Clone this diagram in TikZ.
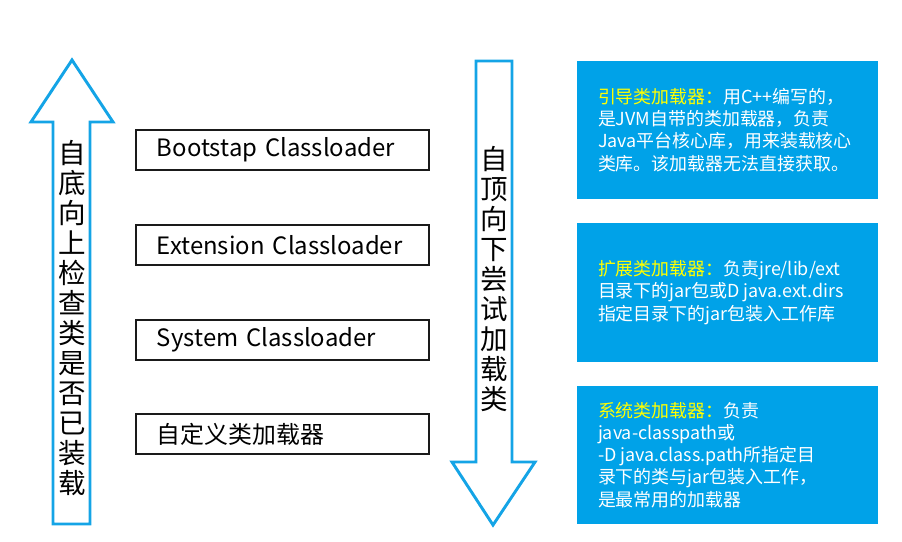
\documentclass[tikz,border=0pt]{standalone}
\usepackage{fontspec}
\setmainfont{Noto Sans CJK SC}
\usepackage{xcolor}
\usepackage{tikz}
\usetikzlibrary{positioning}
\definecolor{loaderBlue}{HTML}{00A2E8}
\definecolor{loaderLine}{HTML}{14A4E6}
\definecolor{loaderInk}{HTML}{1A1A1A}
\definecolor{loaderYellow}{HTML}{FFFF00}
\tikzset{
    loader/box/.style={
        rectangle, draw=loaderInk, fill=white, line width=1.6pt,
        minimum width=8.79cm, minimum height=1.2cm,
        text width=7.53cm, inner xsep=0.63cm, align=left,
        font=\fontsize{20.4}{24}\selectfont, text=black
    },
    loader/note/.style={
        rectangle, fill=loaderBlue, draw=none,
        minimum width=9.03cm, minimum height=4.14cm
    },
    loader/note text/.style={
        align=left, text=white, inner sep=0pt,
        font=\fontsize{15.3}{18.9}\selectfont
    },
    loader/outline/.style={
        draw=loaderLine, fill=white, line width=2.5pt, line join=miter
    },
    loader/vertical/.style={
        align=center, inner sep=0pt, text=black,
        font=\fontsize{23.5}{25.6}\selectfont
    }
}
\newcommand{\noteHead}[1]{\textcolor{loaderYellow}{#1}}

\begin{document}
\begin{tikzpicture}[x=0.03cm, y=-0.03cm]
    \useasboundingbox (0,0) rectangle (902,542);

    % arrows
    \draw[loader/outline] (72,60) -- (113,122) -- (90,122) -- (90,524)
        -- (53,524) -- (53,122) -- (31,122) -- cycle;
    \draw[loader/outline] (476,61) -- (512,61) -- (512,462) -- (535,462)
        -- (493,525) -- (452,462) -- (476,462) -- cycle;
    \node[loader/vertical] (upText) at (72,318)
        {自\\底\\向\\上\\检\\查\\类\\是\\否\\已\\装\\载};
    \node[loader/vertical] (downText) at (494,279)
        {自\\顶\\向\\下\\尝\\试\\加\\载\\类};

    % class loaders
    \node[loader/box] (bootstrap) at (282.5,150) {Bootstap Classloader};
    \node[loader/box] (extension) at (282.5,245) {Extension Classloader};
    \node[loader/box] (system) at (282.5,340) {System Classloader};
    \node[loader/box] (custom) at (282.5,434) {自定义类加载器};

    % notes
    \node[loader/note] (bootNote) at (727.5,130) {};
    \node[loader/note text, right=0.63cm of bootNote.west] (bootText)
        {\noteHead{引导类加载器：}用C++编写的，\\
         是JVM自带的类加载器，负责\\
         Java平台核心库，用来装载核心\\
         类库。该加载器无法直接获取。};
    \node[loader/note] (extNote) at (727.5,292.5) {};
    \node[loader/note text, right=0.63cm of extNote.west] (extText)
        {\noteHead{扩展类加载器：}负责jre/lib/ext\\
         目录下的jar包或D java.ext.dirs\\
         指定目录下的jar包装入工作库};
    \node[loader/note] (sysNote) at (727.5,455) {};
    \node[loader/note text, right=0.63cm of sysNote.west] (sysText)
        {\noteHead{系统类加载器：}负责\\
         java-classpath或\\
         -D java.class.path所指定目\\
         录下的类与jar包装入工作，\\
         是最常用的加载器};
\end{tikzpicture}
\end{document}
